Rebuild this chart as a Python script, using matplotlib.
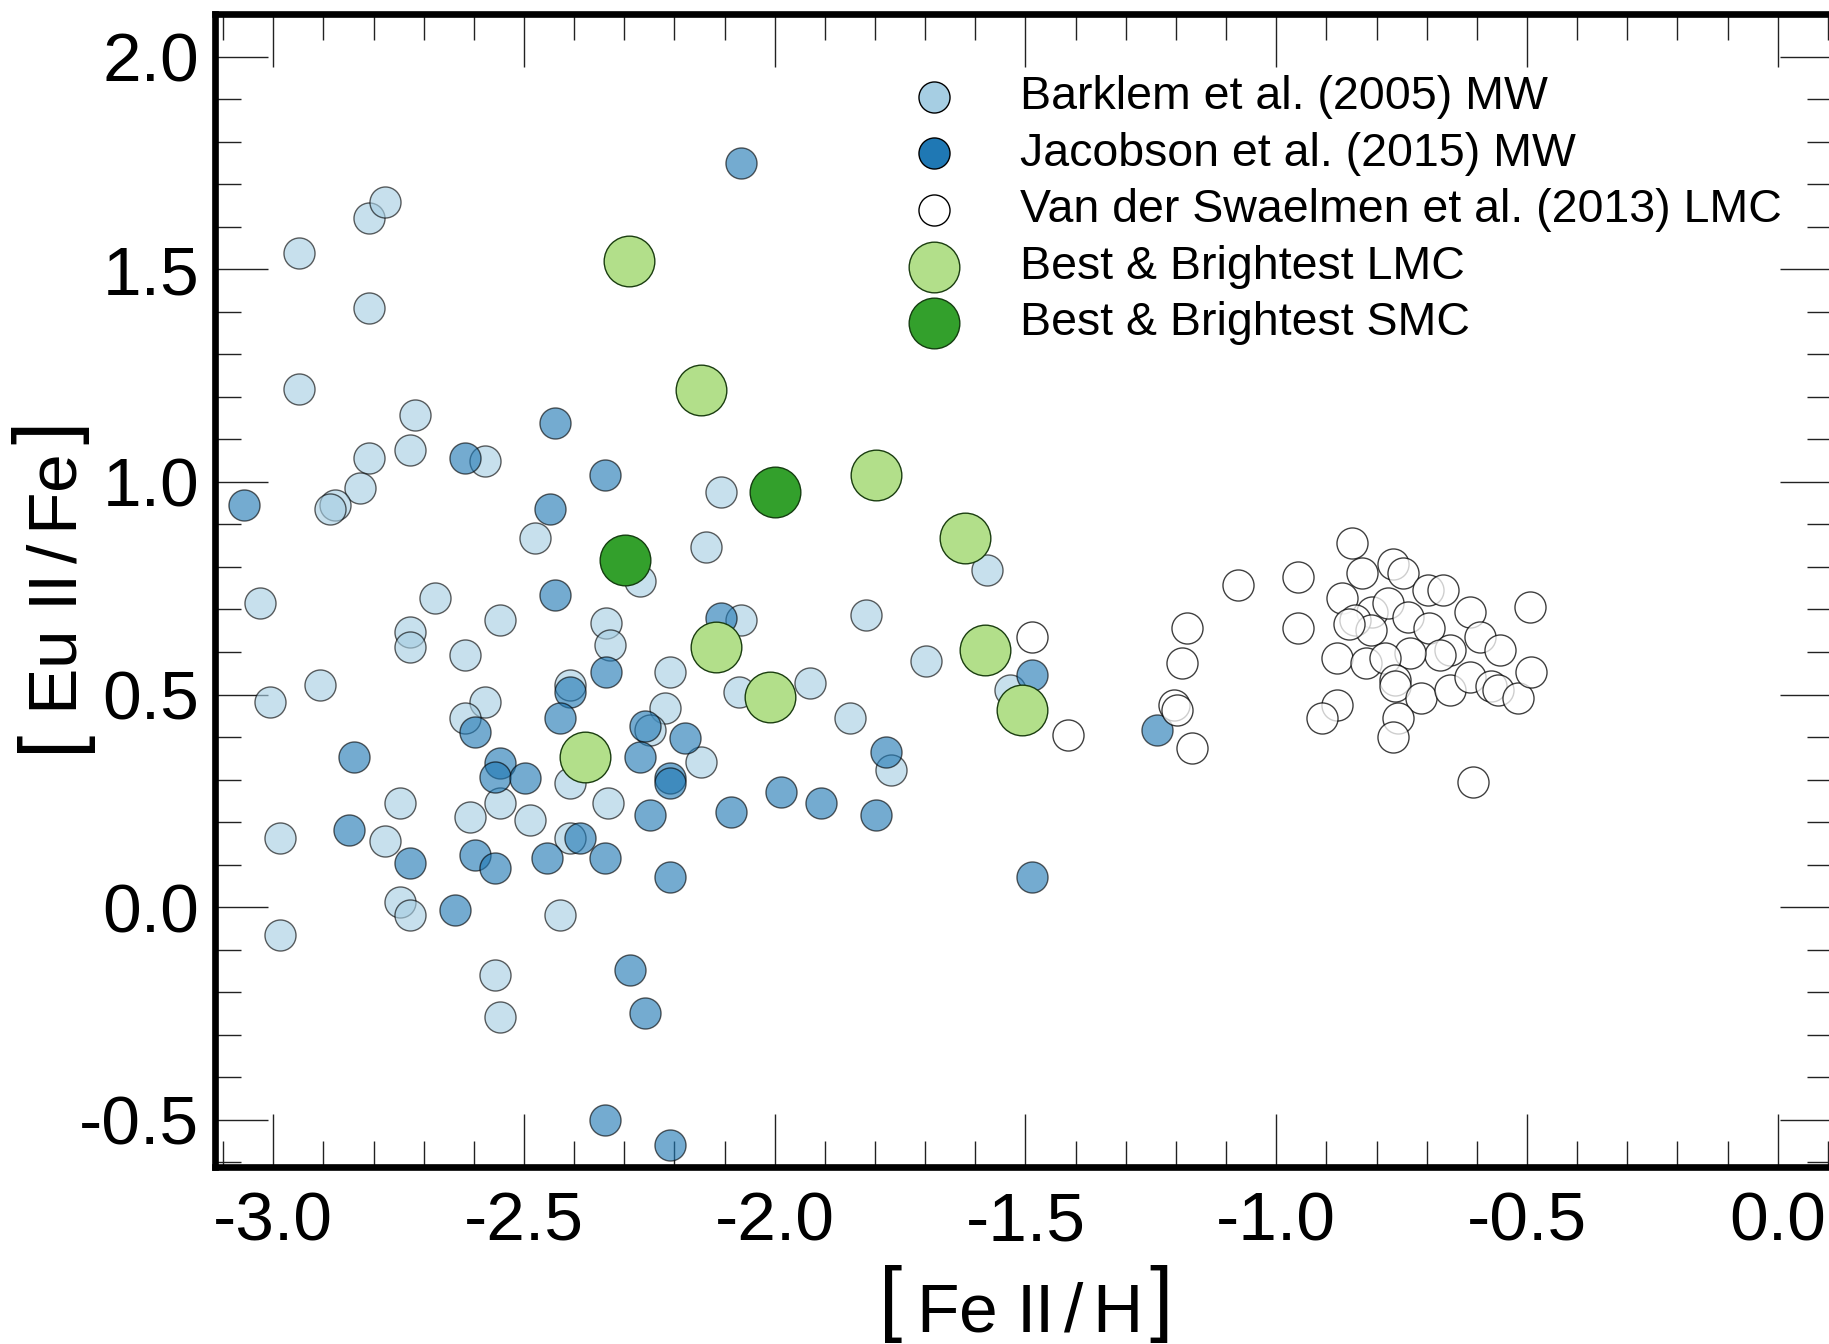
import matplotlib
matplotlib.use('Agg')
import matplotlib.pyplot as plt
from matplotlib.ticker import MultipleLocator, FormatStrFormatter
from matplotlib.transforms import IdentityTransform
import numpy as np

# =================================================================
#                   DATA ([Fe II/H], [Eu II/Fe])
# =================================================================
barklem_feh = np.array([-2.949, -2.809, -2.778, -2.809, -2.949, -2.718, -2.728, -2.809, -2.578, -2.828,
                        -2.877, -2.887, -2.478, -3.027, -2.678, -2.727, -2.727, -2.548, -2.618, -2.336,
                        -2.328, -2.907, -3.007, -2.578, -2.618, -2.408, -2.548, -2.608, -2.488, -2.408,
                        -2.748, -2.778, -2.408, -2.332, -2.987, -2.748, -2.728, -2.428, -2.987, -2.558,
                        -2.548, -2.108, -2.268, -2.138, -1.576, -1.819, -2.068, -2.208, -1.699, -2.072,
                        -1.929, -1.849, -2.218, -2.248, -2.148, -1.769, -1.530])
barklem_eu = np.array([1.538, 1.620, 1.659, 1.408, 1.218, 1.158, 1.075, 1.056, 1.048, 0.985,
                       0.946, 0.936, 0.868, 0.715, 0.727, 0.648, 0.613, 0.676, 0.593, 0.668,
                       0.617, 0.523, 0.483, 0.483, 0.444, 0.523, 0.245, 0.213, 0.205, 0.292,
                       0.245, 0.155, 0.162, 0.245, 0.162, 0.013, -0.018, -0.018, -0.065, -0.159,
                       -0.257, 0.977, 0.766, 0.848, 0.793, 0.687, 0.676, 0.554, 0.578, 0.507,
                       0.527, 0.444, 0.468, 0.417, 0.342, 0.323, 0.511])

jacobson_feh = np.array([-2.618, -2.438, -3.058, -2.448, -2.338, -2.438, -2.336, -2.408, -2.428, -2.598,
                         -2.838, -2.548, -2.558, -2.498, -2.848, -2.728, -2.598, -2.558, -2.455, -2.388,
                         -2.338, -2.638, -2.068, -2.108, -2.258, -2.178, -2.268, -2.208, -2.208, -1.779,
                         -1.486, -2.248, -2.088, -1.988, -1.908, -1.799, -2.208, -2.288, -2.258, -2.338,
                         -2.208, -1.486, -1.237])
jacobson_eu = np.array([1.056, 1.138, 0.946, 0.936, 1.017, 0.734, 0.554, 0.507, 0.444, 0.413,
                        0.354, 0.339, 0.307, 0.303, 0.182, 0.104, 0.123, 0.092, 0.115, 0.162,
                        0.115, -0.006, 1.749, 0.680, 0.425, 0.397, 0.354, 0.303, 0.292, 0.366,
                        0.546, 0.217, 0.225, 0.272, 0.245, 0.217, 0.072, -0.147, -0.249, -0.500,
                        -0.559, 0.072, 0.417])

vds_feh = np.array([-1.486, -1.416, -1.177, -1.187, -1.204, -1.197, -1.167, -1.077, -0.957, -0.957,
                    -0.848, -0.828, -0.768, -0.748, -0.698, -0.668, -0.494, -0.868, -0.808, -0.778,
                    -0.843, -0.811, -0.738, -0.695, -0.614, -0.594, -0.554, -0.654, -0.674, -0.734,
                    -0.878, -0.820, -0.784, -0.764, -0.764, -0.711, -0.654, -0.614, -0.571, -0.558,
                    -0.518, -0.491, -0.878, -0.908, -0.758, -0.768, -0.608, -0.855])
vds_eu = np.array([0.636, 0.405, 0.656, 0.574, 0.476, 0.464, 0.374, 0.758, 0.777, 0.656,
                   0.856, 0.785, 0.807, 0.785, 0.746, 0.746, 0.707, 0.727, 0.695, 0.715,
                   0.676, 0.652, 0.683, 0.656, 0.695, 0.636, 0.605, 0.605, 0.593, 0.597,
                   0.585, 0.574, 0.585, 0.534, 0.519, 0.491, 0.511, 0.542, 0.519, 0.511,
                   0.491, 0.554, 0.476, 0.444, 0.444, 0.401, 0.295, 0.665])

bb_lmc_feh = np.array([-2.29, -2.148, -1.799, -1.620, -2.118, -1.580, -2.009, -1.506, -2.378])
bb_lmc_eu = np.array([1.52, 1.216, 1.017, 0.868, 0.613, 0.605, 0.495, 0.464, 0.354])

bb_smc_feh = np.array([-1.999, -2.298])
bb_smc_eu = np.array([0.977, 0.817])

labels = ['Barklem et al. (2005) MW',
          'Jacobson et al. (2015) MW',
          'Van der Swaelmen et al. (2013) LMC',
          'Best & Brightest LMC',
          'Best & Brightest SMC']

# =================================================================
#                   STYLE
# =================================================================
plt.rcParams['font.family'] = 'Liberation Sans'
plt.rcParams['mathtext.fontset'] = 'custom'
plt.rcParams['mathtext.rm'] = 'Liberation Sans'
plt.rcParams['mathtext.it'] = 'Liberation Sans:italic'
plt.rcParams['mathtext.bf'] = 'Liberation Sans:bold'
plt.rcParams['axes.unicode_minus'] = False

fig = plt.figure(figsize=(18.29, 13.44), dpi=100)
ax = fig.add_axes([0.1176, 0.1319, 0.8845, 0.8577])

small = 500
big = 1330

ax.scatter(barklem_feh, barklem_eu, s=small, c='#a6cee3', edgecolors='black', linewidths=1.0, alpha=0.62,
           label=labels[0], zorder=2)
ax.scatter(jacobson_feh, jacobson_eu, s=small, c='#1f78b4', edgecolors='black', linewidths=1.0, alpha=0.62,
           label=labels[1], zorder=2)
ax.scatter(vds_feh, vds_eu, s=small, c='white', edgecolors='black', linewidths=1.0, alpha=0.75,
           label=labels[2], zorder=3)
ax.scatter(bb_lmc_feh, bb_lmc_eu, s=big, c='#b2df8a', edgecolors='#1a3d10', linewidths=1.0,
           label=labels[3], zorder=4)
ax.scatter(bb_smc_feh, bb_smc_eu, s=big, c='#33a02c', edgecolors='#143d10', linewidths=1.0,
           label=labels[4], zorder=4)

ax.set_xlim(-3.116, 0.11)
ax.set_ylim(-0.61, 2.10)

ax.xaxis.set_major_locator(MultipleLocator(0.5))
ax.xaxis.set_minor_locator(MultipleLocator(0.1))
ax.yaxis.set_major_locator(MultipleLocator(0.5))
ax.yaxis.set_minor_locator(MultipleLocator(0.1))
ax.xaxis.set_major_formatter(FormatStrFormatter('%.1f'))
ax.yaxis.set_major_formatter(FormatStrFormatter('%.1f'))

ax.tick_params(which='both', direction='in', top=True, right=True, color='#222222')
ax.tick_params(which='major', length=38, width=1.0, labelsize=50)
ax.tick_params(axis='x', which='major', pad=17)
ax.tick_params(axis='y', which='major', pad=11.5)
ax.tick_params(which='minor', length=18.5, width=1.0)
for sp in ax.spines.values():
    sp.set_linewidth(4.8)

# axis labels: text + tall brackets drawn separately
xlab_y = -0.1431
ylab_x = -0.0855
ax.set_xlabel(r'$\mathrm{Fe\ II\,/\,H}$', fontsize=50, va='baseline')
ax.set_ylabel(r'$\mathrm{Eu\ II\,/\,Fe}$', fontsize=50, va='baseline')
ax.xaxis.set_label_coords(0.502, xlab_y)
ax.yaxis.set_label_coords(ylab_x, 0.5046)

leg = ax.legend(loc='upper left', bbox_to_anchor=(0.430, 0.947), frameon=False, fontsize=33.5,
                scatterpoints=1, handlelength=1.0, handletextpad=1.35, labelspacing=0.27, borderpad=0,
                borderaxespad=0)
for h in leg.legend_handles:
    h.set_alpha(1)

fig.canvas.draw()
renderer = fig.canvas.get_renderer()
bx = ax.xaxis.label.get_window_extent(renderer)
by = ax.yaxis.label.get_window_extent(renderer)
xbase = ax.transAxes.transform((0, xlab_y))[1] + 6.0
ybase = ax.transAxes.transform((ylab_x, 0))[0] - 4.0
bsize = 60
ident = IdentityTransform()
fig.text(bx.x0 - 25, xbase, '[', fontsize=bsize, ha='center', va='baseline', transform=ident)
fig.text(bx.x1 + 22, xbase, ']', fontsize=bsize, ha='center', va='baseline', transform=ident)
fig.text(ybase, by.y0 - 25, '[', fontsize=bsize, ha='center', va='baseline', rotation=90,
         rotation_mode='anchor', transform=ident)
fig.text(ybase, by.y1 + 22, ']', fontsize=bsize, ha='center', va='baseline', rotation=90,
         rotation_mode='anchor', transform=ident)

fig.savefig('out.png', dpi=100)
